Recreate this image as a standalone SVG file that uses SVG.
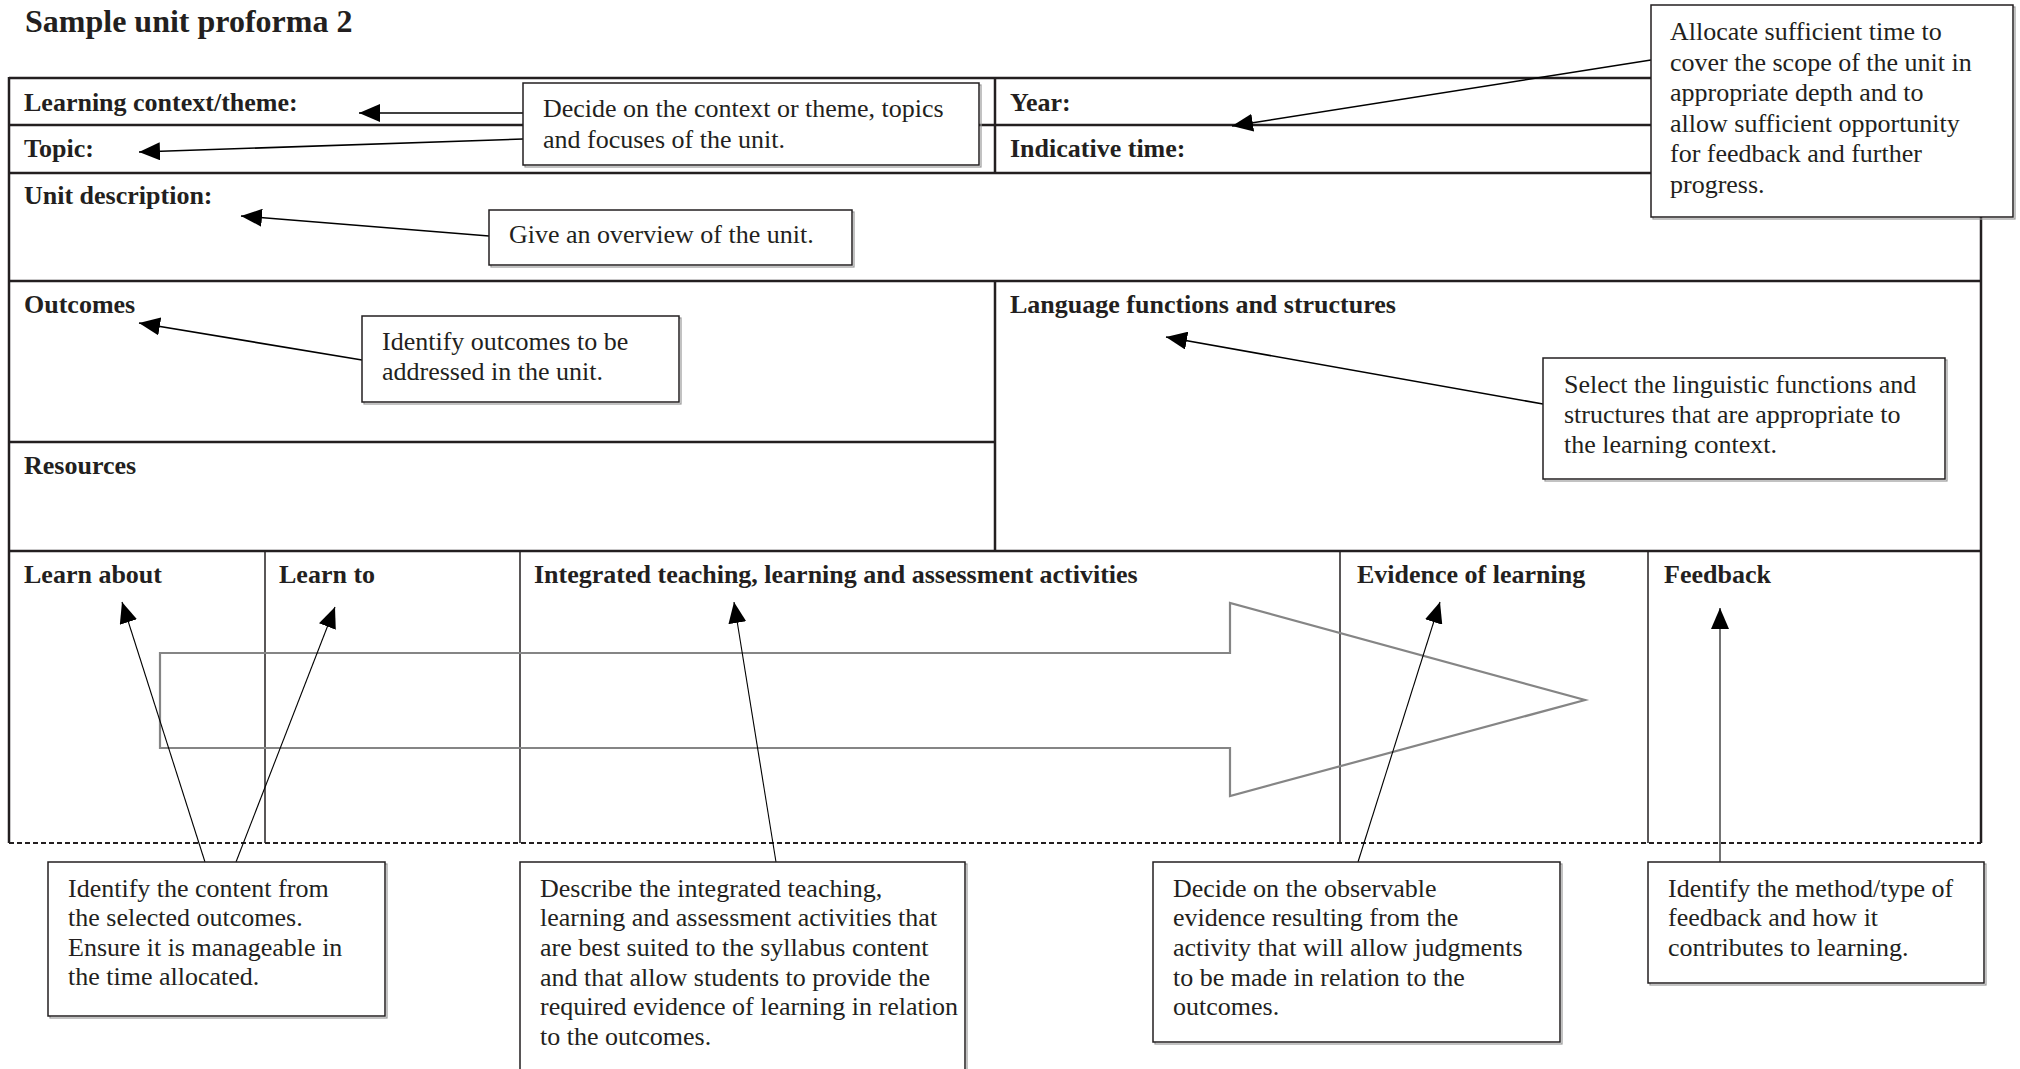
<svg xmlns="http://www.w3.org/2000/svg" width="2020" height="1069" viewBox="0 0 2020 1069">
<style>
.frame{stroke:#231f20;stroke-width:2.5;fill:none}
.div{stroke:#231f20;stroke-width:1.5;fill:none}
.lbl{font-family:"Liberation Serif","Times New Roman",serif;font-weight:bold;font-size:26px;fill:#231f20}
.txt{font-family:"Liberation Serif","Times New Roman",serif;font-size:26px;fill:#231f20}
.box{fill:#ffffff;stroke:#231f20;stroke-width:1.5}
.shadow{fill:none;stroke:#9a9a9a;stroke-width:1.2}
.con{stroke:#000;stroke-width:1.6;fill:none;marker-end:url(#ah)}
.con2{stroke:#000;stroke-width:1.1;fill:none;marker-end:url(#ah)}
.big{fill:none;stroke:#858585;stroke-width:2.2}
</style>
<defs>
<marker id="ah" markerUnits="userSpaceOnUse" markerWidth="22" markerHeight="18" refX="21" refY="9" orient="auto">
<path d="M0,0 L21,9 L0,18 z" fill="#000"/>
</marker>
</defs>
<rect width="2020" height="1069" fill="#ffffff"/>
<text class="lbl" x="25" y="32" style="font-size:32px">Sample unit proforma 2</text>
<g id="table">
<line class="frame" x1="9" y1="78" x2="1981" y2="78"/>
<line class="frame" x1="9" y1="125" x2="1981" y2="125"/>
<line class="frame" x1="9" y1="173" x2="1981" y2="173"/>
<line class="frame" x1="9" y1="281" x2="1981" y2="281"/>
<line class="frame" x1="9" y1="442" x2="995" y2="442"/>
<line class="frame" x1="9" y1="551" x2="1981" y2="551"/>
<line class="frame" x1="9" y1="77" x2="9" y2="843"/>
<line class="frame" x1="1981" y1="77" x2="1981" y2="843"/>
<line class="frame" x1="995" y1="78" x2="995" y2="173"/>
<line class="frame" x1="995" y1="281" x2="995" y2="551"/>
<line class="div" x1="265" y1="551" x2="265" y2="843"/>
<line class="div" x1="520" y1="551" x2="520" y2="843"/>
<line class="div" x1="1340" y1="551" x2="1340" y2="843"/>
<line class="div" x1="1648" y1="551" x2="1648" y2="843"/>
<line x1="9" y1="843" x2="1981" y2="843" stroke="#231f20" stroke-width="2" stroke-dasharray="5 3"/>
<text class="lbl" x="24" y="111">Learning context/theme:</text>
<text class="lbl" x="24" y="157">Topic:</text>
<text class="lbl" x="1010" y="111">Year:</text>
<text class="lbl" x="1010" y="157">Indicative time:</text>
<text class="lbl" x="24" y="204">Unit description:</text>
<text class="lbl" x="24" y="313">Outcomes</text>
<text class="lbl" x="24" y="474">Resources</text>
<text class="lbl" x="1010" y="313">Language functions and structures</text>
<text class="lbl" x="24" y="583">Learn about</text>
<text class="lbl" x="279" y="583">Learn to</text>
<text class="lbl" x="534" y="583">Integrated teaching, learning and assessment activities</text>
<text class="lbl" x="1357" y="583">Evidence of learning</text>
<text class="lbl" x="1664" y="583">Feedback</text>
</g>
<g id="flow-arrow">
<polygon class="big" points="160,653 1230,653 1230,603 1585,700 1230,796 1230,748 160,748"/>
</g>
<g id="connectors">
<line class="con" x1="523" y1="113" x2="359" y2="113"/>
<line class="con" x1="523" y1="139" x2="139" y2="152"/>
<line class="con" x1="489" y1="236" x2="241" y2="216"/>
<line class="con" x1="1651" y1="60" x2="1232" y2="126"/>
<line class="con" x1="362" y1="360" x2="139" y2="323"/>
<line class="con" x1="1543" y1="404" x2="1166" y2="337"/>
<line class="con2" x1="205" y1="862" x2="122" y2="602"/>
<line class="con2" x1="236" y1="862" x2="335" y2="607"/>
<line class="con2" x1="776" y1="862" x2="734" y2="602"/>
<line class="con2" x1="1358" y1="862" x2="1440" y2="602"/>
<line class="con2" x1="1720" y1="862" x2="1720" y2="608"/>
</g>
<g id="note-context">
<rect class="shadow" x="525" y="85" width="456" height="82"/>
<rect class="box" x="523" y="83" width="456" height="82"/>
<text class="txt" x="543" y="117">Decide on the context or theme, topics</text>
<text class="txt" x="543" y="148">and focuses of the unit.</text>
</g>
<g id="note-time">
<rect class="shadow" x="1653" y="7" width="362" height="212"/>
<rect class="box" x="1651" y="5" width="362" height="212"/>
<text class="txt" x="1670" y="40">Allocate sufficient time to</text>
<text class="txt" x="1670" y="71">cover the scope of the unit in</text>
<text class="txt" x="1670" y="101">appropriate depth and to</text>
<text class="txt" x="1670" y="132">allow sufficient opportunity</text>
<text class="txt" x="1670" y="162">for feedback and further</text>
<text class="txt" x="1670" y="193">progress.</text>
</g>
<g id="note-overview">
<rect class="shadow" x="491" y="212" width="363" height="55"/>
<rect class="box" x="489" y="210" width="363" height="55"/>
<text class="txt" x="509" y="243">Give an overview of the unit.</text>
</g>
<g id="note-outcomes">
<rect class="shadow" x="364" y="318" width="317" height="86"/>
<rect class="box" x="362" y="316" width="317" height="86"/>
<text class="txt" x="382" y="350">Identify outcomes to be</text>
<text class="txt" x="382" y="380">addressed in the unit.</text>
</g>
<g id="note-language">
<rect class="shadow" x="1545" y="360" width="402" height="121"/>
<rect class="box" x="1543" y="358" width="402" height="121"/>
<text class="txt" x="1564" y="393">Select the linguistic functions and</text>
<text class="txt" x="1564" y="423">structures that are appropriate to</text>
<text class="txt" x="1564" y="453">the learning context.</text>
</g>
<g id="note-content">
<rect class="shadow" x="50" y="864" width="337" height="154"/>
<rect class="box" x="48" y="862" width="337" height="154"/>
<text class="txt" x="68" y="897">Identify the content from</text>
<text class="txt" x="68" y="926">the selected outcomes.</text>
<text class="txt" x="68" y="956">Ensure it is manageable in</text>
<text class="txt" x="68" y="985">the time allocated.</text>
</g>
<g id="note-activities">
<rect class="shadow" x="522" y="864" width="445" height="215"/>
<rect class="box" x="520" y="862" width="445" height="215"/>
<text class="txt" x="540" y="897">Describe the integrated teaching,</text>
<text class="txt" x="540" y="926">learning and assessment activities that</text>
<text class="txt" x="540" y="956">are best suited to the syllabus content</text>
<text class="txt" x="540" y="986">and that allow students to provide the</text>
<text class="txt" x="540" y="1015">required evidence of learning in relation</text>
<text class="txt" x="540" y="1045">to the outcomes.</text>
</g>
<g id="note-evidence">
<rect class="shadow" x="1155" y="864" width="407" height="180"/>
<rect class="box" x="1153" y="862" width="407" height="180"/>
<text class="txt" x="1173" y="897">Decide on the observable</text>
<text class="txt" x="1173" y="926">evidence resulting from the</text>
<text class="txt" x="1173" y="956">activity that will allow judgments</text>
<text class="txt" x="1173" y="986">to be made in relation to the</text>
<text class="txt" x="1173" y="1015">outcomes.</text>
</g>
<g id="note-feedback">
<rect class="shadow" x="1650" y="864" width="336" height="121"/>
<rect class="box" x="1648" y="862" width="336" height="121"/>
<text class="txt" x="1668" y="897">Identify the method/type of</text>
<text class="txt" x="1668" y="926">feedback and how it</text>
<text class="txt" x="1668" y="956">contributes to learning.</text>
</g>
</svg>
